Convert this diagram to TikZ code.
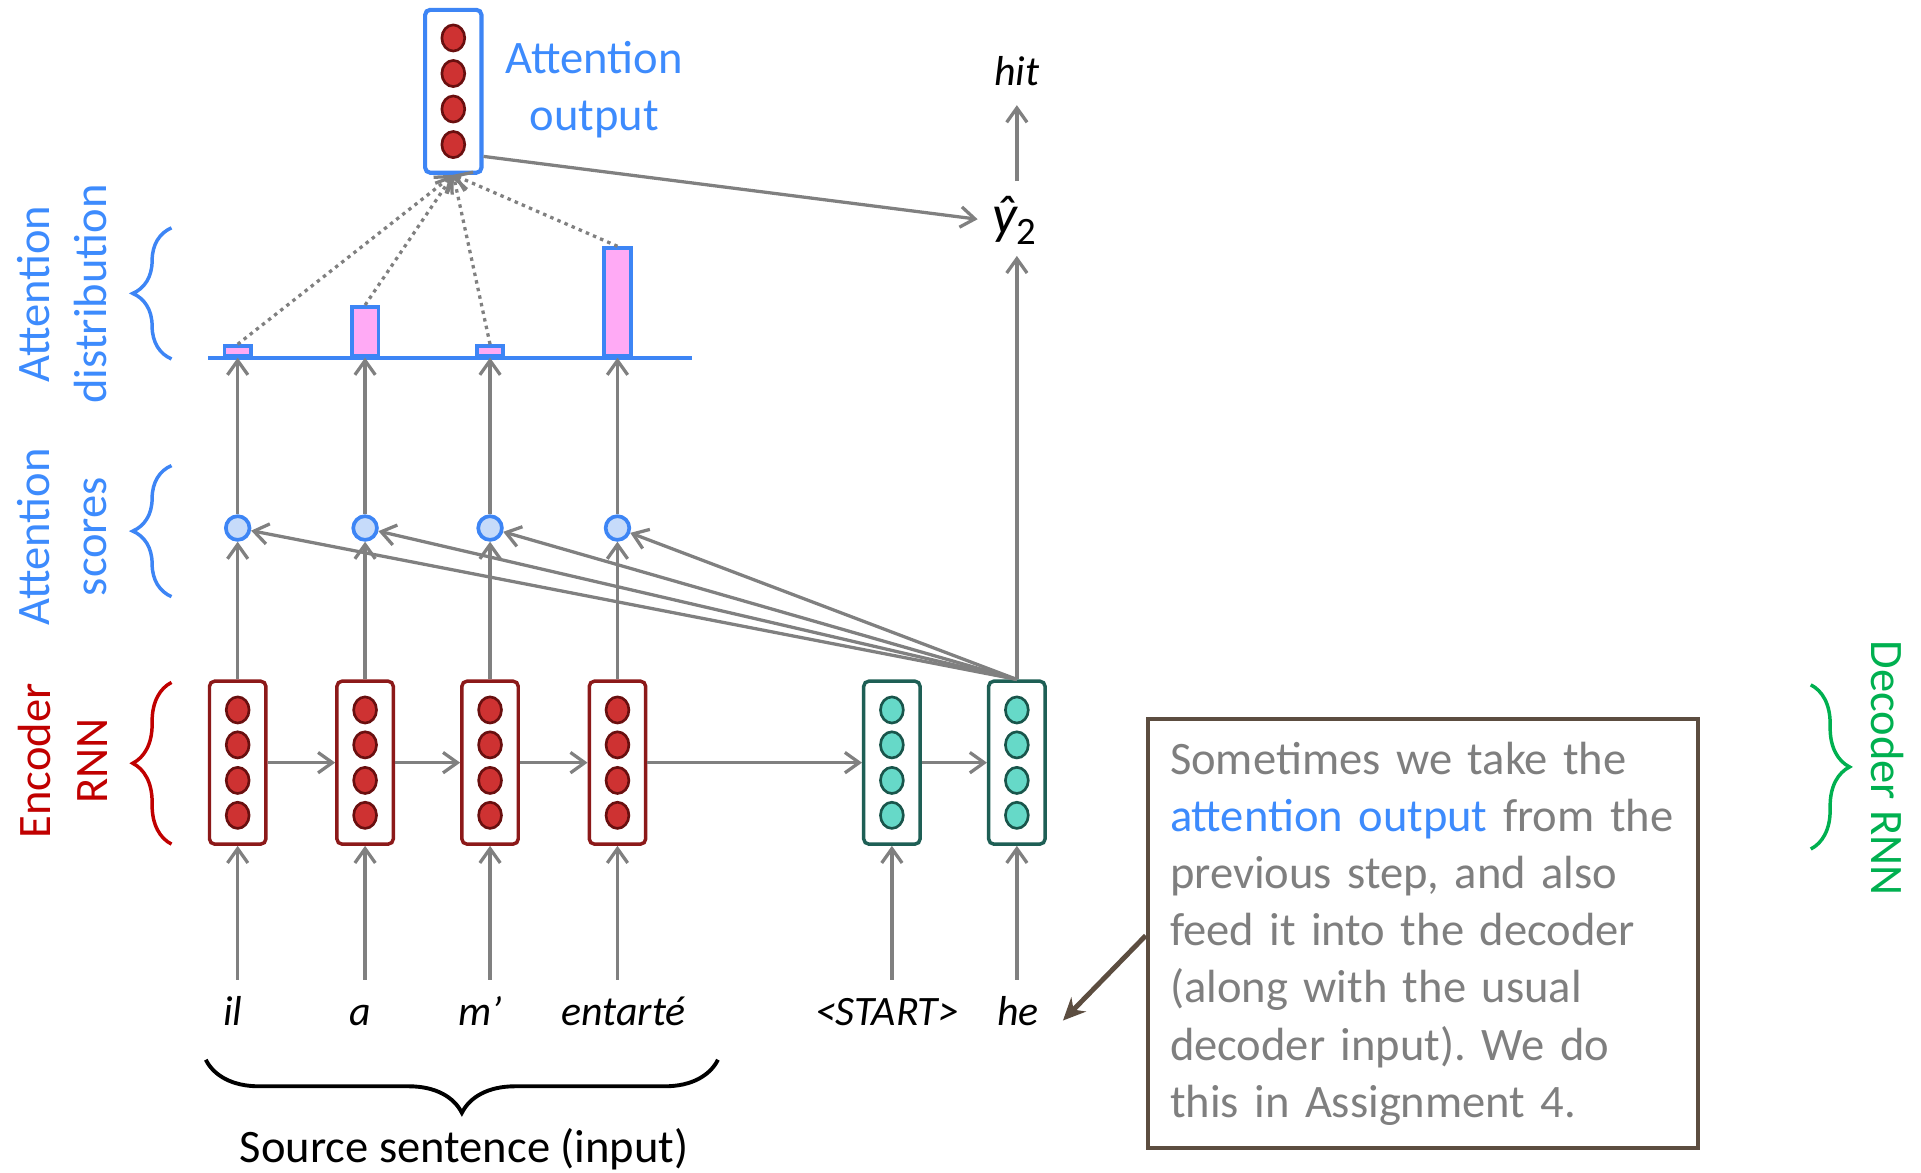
\documentclass[tikz,border=0pt]{standalone}
\usepackage{fontspec}
\setmainfont{Carlito}
\usetikzlibrary{arrows.meta,decorations.pathreplacing,calc}
\frenchspacing
\definecolor{lblue}{RGB}{61,139,253}
\definecolor{bblue}{RGB}{61,133,245}
\definecolor{sfill}{RGB}{198,219,250}
\definecolor{pinkfill}{RGB}{255,170,245}
\definecolor{encred}{RGB}{140,25,25}
\definecolor{encfill}{RGB}{206,50,50}
\definecolor{encdark}{RGB}{105,15,15}
\definecolor{decbox}{RGB}{30,95,85}
\definecolor{decfill}{RGB}{102,217,200}
\definecolor{decdark}{RGB}{25,85,75}
\definecolor{arrgray}{RGB}{128,128,128}
\definecolor{txtgray}{RGB}{127,127,127}
\definecolor{brownc}{RGB}{92,77,64}
\definecolor{labred}{RGB}{192,0,0}
\definecolor{labgreen}{RGB}{0,176,80}
\newcommand\bigfont{\fontsize{22.8}{28}\selectfont}
\newcommand\yfont{\fontsize{27}{30}\selectfont\itshape}
\newcommand\subfont{\fontsize{19}{22}\selectfont\upshape}
\newcommand\wordfont{\fontsize{20.5}{24}\selectfont\itshape}
\begin{document}
\begin{tikzpicture}[x=0.6pt,y=-0.6pt,
  vecbox/.style={rectangle,rounded corners=2.5pt,minimum width=27.6pt,minimum height=79.8pt,inner sep=0pt,line width=1.7pt,fill=white},
  encbox/.style={vecbox,draw=encred},
  decbox/.style={vecbox,draw=decbox},
  attbox/.style={vecbox,draw=bblue,line width=2pt},
  enccell/.style={fill=encfill,draw=encdark,line width=1.3pt},
  deccell/.style={fill=decfill,draw=decdark,line width=1.3pt},
  score/.style={circle,minimum size=11.6pt,inner sep=0pt,fill=sfill,draw=bblue,line width=1.8pt},
  bar/.style={rectangle,anchor=south,minimum width=13pt,inner sep=0pt,fill=pinkfill,draw=bblue,line width=1.8pt},
  arr/.style={draw=arrgray,line width=1.6pt,-{Straight Barb[length=7pt,width=10pt]}},
  dotarr/.style={draw=arrgray,line width=1.6pt,dash pattern=on 1.7pt off 2.1pt,-{Straight Barb[length=7pt,width=10pt]}},
  word/.style={font=\wordfont,text height=14pt,text depth=4pt,inner xsep=2pt,inner ysep=8.4pt},
  lab/.style={font=\bigfont,align=center},
  bracestyle/.style={decorate,decoration={brace,amplitude=19pt},line width=1.7pt},
]
\useasboundingbox (0,0) rectangle (1568,957);

% encoder / decoder boxes
\foreach \i/\x in {1/194,2/298,3/400,4/504}{
  \node[encbox] (e\i) at (\x,622.5) {};
  \foreach \dy in {-43,-14.5,14.5,43}
    \draw[enccell] ($(e\i.center)+(0,\dy)$) ellipse [x radius=5.6pt,y radius=6.4pt];
}
\foreach \i/\x in {1/728,2/830}{
  \node[decbox] (d\i) at (\x,622.5) {};
  \foreach \dy in {-43,-14.5,14.5,43}
    \draw[deccell] ($(d\i.center)+(0,\dy)$) ellipse [x radius=5.6pt,y radius=6.4pt];
}

% attention output box
\node[attbox] (attn) at (370,74.5) {};
\foreach \dy in {-43.5,-14.5,14.5,43.5}
  \draw[enccell] ($(attn.center)+(0,\dy)$) ellipse [x radius=5.6pt,y radius=6.4pt];
\node[lab,text=lblue] (attnlab) at (485,73) {Attention\\output};

% output side
\node[font=\yfont,inner xsep=2pt] (yhat) at (828,180) {ŷ\raisebox{-0.2em}{\subfont 2}};
\node[font=\wordfont] (hit) at (830,58) {hit};

% words
\node[word] (w1) at (190,829) {il};
\node[word] (w2) at (294,829) {a};
\node[word] (w3) at (392,829) {m’};
\node[word] (w4) at (509,829) {entarté};
\node[word] (w5) at (724,829) {\textless START\textgreater};
\node[word] (w6) at (831,829) {he};

% scores
\foreach \i in {1,...,4}
  \node[score] (s\i) at (e\i.center |- 0,431) {};

% attention distribution
\draw[draw=bblue,line width=1.8pt] (170,292) -- (565,292);
\node[bar,minimum height=4.8pt] (b1) at (s1.center |- 0,292) {};
\node[bar,minimum height=24pt] (b2) at (s2.center |- 0,292) {};
\node[bar,minimum height=4.8pt] (b3) at (s3.center |- 0,292) {};
\node[bar,minimum height=52.8pt] (b4) at (s4.center |- 0,292) {};

% arrows: inputs
\foreach \i in {1,...,4}
  \draw[arr] (e\i.south |- w\i.north) -- (e\i.south);
\draw[arr] (d1.south |- w5.north) -- (d1.south);
\draw[arr] (d2.south |- w6.north) -- (d2.south);
% recurrent arrows
\draw[arr] (e1.east) -- (e2.west);
\draw[arr] (e2.east) -- (e3.west);
\draw[arr] (e3.east) -- (e4.west);
\draw[arr] (e4.east) -- (d1.west);
\draw[arr] (d1.east) -- (d2.west);
% encoder -> scores -> distribution
\foreach \i in {1,...,4}{
  \draw[arr] (e\i.north) -- (s\i.south);
  \draw[arr] (s\i.north) -- (b\i.south);
  \draw[arr] (d2.north) -- (s\i);
  \draw[dotarr] (b\i.north) -- (attn.south);
}
% decoder output
\draw[arr,shorten >=2pt] (d2.north) -- (d2.north |- yhat.south);
\draw[arr,shorten <=4pt,shorten >=6pt] (d2.north |- yhat.north) -- (d2.north |- hit.south);
\draw[arr,shorten >=5pt] ([yshift=9pt]attn.south east) -- (yhat.west);

% left labels and braces
\node[lab,text=lblue,rotate=90] (ldist) at (51,240) {Attention\\distribution};
\node[lab,text=lblue,rotate=90] (lscore) at (51,438) {Attention\\scores};
\node[lab,text=labred,rotate=90] (lenc) at (51,621) {Encoder\\RNN};
\node[lab,text=labgreen,rotate=-90] (ldec) at (1541,627) {Decoder RNN};
\draw[bracestyle,draw=bblue] (140,293) -- (140,186);
\draw[bracestyle,draw=bblue] (140,487) -- (140,380);
\draw[bracestyle,draw=labred] (140,689) -- (140,557);
\draw[bracestyle,draw=labgreen] (1478,559) -- (1478,693);

% source brace
\draw[decorate,decoration={brace,amplitude=26pt},line width=1.9pt,draw=black] (586,865) -- (168,865);
\node[lab] (src) at (379,938) {Source sentence (input)};

% callout
\node[draw=brownc,line width=2.2pt,rectangle,minimum width=269.4pt,minimum height=210pt,
      text width=247.8pt,align=left,inner xsep=10.8pt,font=\bigfont,text=txtgray] (cb) at (1161.5,762)
 {Sometimes we take the\\ \textcolor{lblue}{attention output} from the\\ previous step, and also\\ feed it into the decoder\\ (along with the usual\\ decoder input). We do\\ this in Assignment 4.};
\draw[draw=brownc,line width=2.4pt,-{Stealth[length=11pt,width=10pt]}] ([yshift=-1pt]cb.west) -- ($(w6.east)+(16,4)$);
\end{tikzpicture}
\end{document}
